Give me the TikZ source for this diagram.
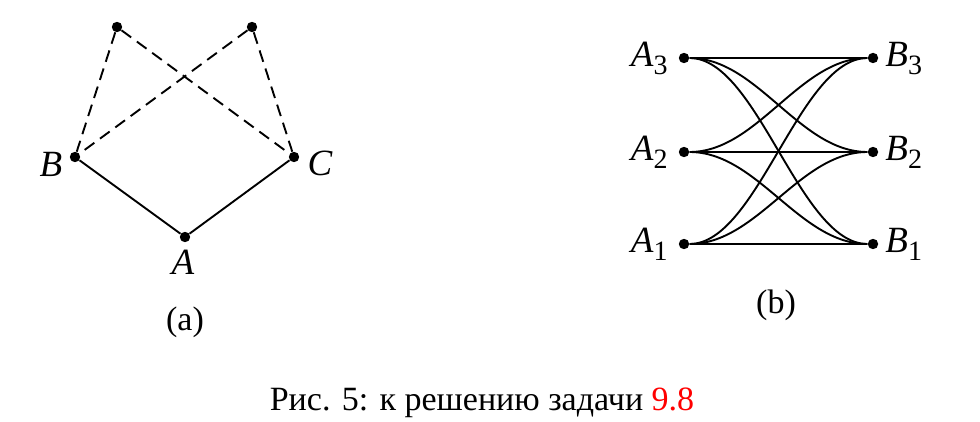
\documentclass[tikz,border=0pt]{standalone}
\usepackage{fontspec}
\setmainfont{Liberation Serif}
\usetikzlibrary{topaths}
\newcommand\vlab[2]{\textit{#1}\raisebox{-0.45ex}{\fontsize{14}{16}\selectfont #2}}
\begin{document}
\begin{tikzpicture}[x=0.5pt,y=-0.5pt,
  dot/.style={circle,fill,inner sep=0pt,minimum size=5.2pt},
  lbl/.style={font=\fontsize{18.5}{22}\selectfont\itshape,inner sep=0pt},
  sublbl/.style={font=\fontsize{18.5}{22}\selectfont,inner sep=0pt},
  txt/.style={font=\fontsize{17}{20}\selectfont,inner sep=0pt},
  edge/.style={line width=0.95pt},
  dashedge/.style={line width=0.95pt,dash pattern=on 6pt off 3.5pt}]
\useasboundingbox (0,0) rectangle (980,422);
% (a)
\node[dot] (t1) at (117,27) {};
\node[dot] (t2) at (252,27) {};
\node[dot] (B) at (75,157) {};
\node[dot] (C) at (294,157) {};
\node[dot] (A) at (185,237) {};
\node[lbl,anchor=base] (lB) at (51,177) {B};
\node[lbl,anchor=base] (lC) at (320,176) {C};
\node[lbl,anchor=base] (lA) at (183,275) {A};
\draw[dashedge] (t1) -- (B);
\draw[dashedge] (t1) -- (C);
\draw[dashedge] (t2) -- (B);
\draw[dashedge] (t2) -- (C);
\draw[edge] (B) -- (A) -- (C);
\node[txt] (ca) at (185,322) {(a)};
% (b)
\node[dot] (A3) at (684,58) {};
\node[dot] (A2) at (684,152) {};
\node[dot] (A1) at (684,244) {};
\node[dot] (B3) at (873,58) {};
\node[dot] (B2) at (873,152) {};
\node[dot] (B1) at (873,244) {};
\node[sublbl,anchor=base east] (lA3) at (668,67) {\vlab{A}{3}};
\node[sublbl,anchor=base east] (lA2) at (668,161) {\vlab{A}{2}};
\node[sublbl,anchor=base east] (lA1) at (668,253) {\vlab{A}{1}};
\node[sublbl,anchor=base west] (lB3) at (885,67) {\vlab{B}{3}};
\node[sublbl,anchor=base west] (lB2) at (885,161) {\vlab{B}{2}};
\node[sublbl,anchor=base west] (lB1) at (885,253) {\vlab{B}{1}};
\foreach \a in {A1,A2,A3}{
  \foreach \b in {B1,B2,B3}{
    \draw[edge] (\a) to[out=0,in=180,distance=34pt] (\b);
  }
}
\node[txt] (cb) at (776,305) {(b)};
\node[txt] (cap) at (482,403) {Рис. 5: к решению задачи \textcolor{red}{9.8}};
\end{tikzpicture}
\end{document}
